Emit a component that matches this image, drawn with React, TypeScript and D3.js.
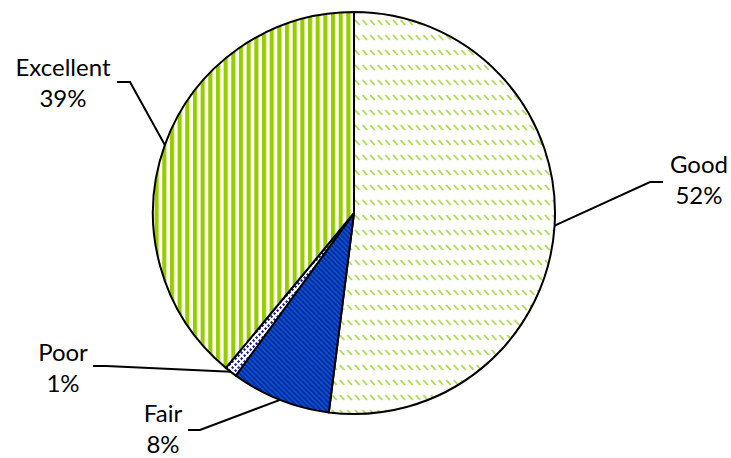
import React from "react";
import * as d3 from "d3";

const categories = ["Good", "Fair", "Poor", "Excellent"];
const values = [52, 8, 1, 39];
const valueLabels = ["52%", "8%", "1%", "39%"];

// layout of the labels (text centre x, first baseline y, elbow point)
const labelLayout = [
  { tx: 699, ty: 173, ex: 650, ey: 182, hx: 663 },
  { tx: 163, ty: 422, ex: 200, ey: 430, hx: 188 },
  { tx: 63, ty: 361, ex: 106, ey: 366, hx: 93 },
  { tx: 63, ty: 76, ex: 130, ey: 82, hx: 117 },
];

const W = 731, H = 458;
const cx = 354, cy = 213, R = 201;

export default function App() {
  const pie = d3.pie<number>().sort(null).value((d) => d)(values);
  const arc = d3.arc<d3.PieArcDatum<number>>().innerRadius(0).outerRadius(R);
  const fills = ["url(#pGood)", "url(#pFair)", "url(#pPoor)", "url(#pExc)"];
  const font = "Lato, 'Open Sans', sans-serif";
  return (
    <svg width={W} height={H} style={{ position: "absolute", left: 0, top: 0 }}>
      <defs>
        <pattern id="pGood" patternUnits="userSpaceOnUse" width={7.6} height={15}>
          <rect width={7.6} height={15} fill="#fff" />
          <line x1={1} y1={2} x2={5.5} y2={7} stroke="#a8d84a" strokeWidth={1.8} />
        </pattern>
        <pattern id="pExc" patternUnits="userSpaceOnUse" width={7.67} height={10}>
          <rect width={7.67} height={10} fill="#fff" />
          <rect x={0} width={4} height={10} fill="#99cc00" />
          <rect x={4} width={1} height={10} fill="#d6eb99" />
        </pattern>
        <pattern id="pFair" patternUnits="userSpaceOnUse" width={5} height={5}>
          <rect width={5} height={5} fill="#0a4fd0" />
          <path d="M-1,-1 L6,6 M-1,4 L1,6 M4,-1 L6,1" stroke="#062a9a" strokeWidth={1.6} />
        </pattern>
        <pattern id="pPoor" patternUnits="userSpaceOnUse" width={6} height={6}>
          <rect width={6} height={6} fill="#fff" />
          <rect x={0.5} y={0.5} width={2.2} height={2.2} fill="#1a1a90" transform="rotate(45 1.6 1.6)" />
          <rect x={3.5} y={3.5} width={2.2} height={2.2} fill="#1a1a90" transform="rotate(45 4.6 4.6)" />
        </pattern>
      </defs>
      <g transform={`translate(${cx},${cy})`}>
        {pie.map((p, i) => (
          <path key={categories[i]} d={arc(p) || ""} fill={fills[i]} stroke="#000" strokeWidth={2} strokeLinejoin="round" />
        ))}
      </g>
      {pie.map((p, i) => {
        const a = (p.startAngle + p.endAngle) / 2;
        const px = cx + R * Math.sin(a);
        const py = cy - R * Math.cos(a);
        const L = labelLayout[i];
        return (
          <g key={"l" + i}>
            <polyline points={`${px},${py} ${L.ex},${L.ey} ${L.hx},${L.ey}`} fill="none" stroke="#000" strokeWidth={2} />
            <text x={L.tx} y={L.ty} textAnchor="middle" fontFamily={font} fontSize={24} fill="#000">
              {categories[i]}
            </text>
            <text x={L.tx} y={L.ty + 31} textAnchor="middle" fontFamily={font} fontSize={24} fill="#000">
              {valueLabels[i]}
            </text>
          </g>
        );
      })}
    </svg>
  );
}
